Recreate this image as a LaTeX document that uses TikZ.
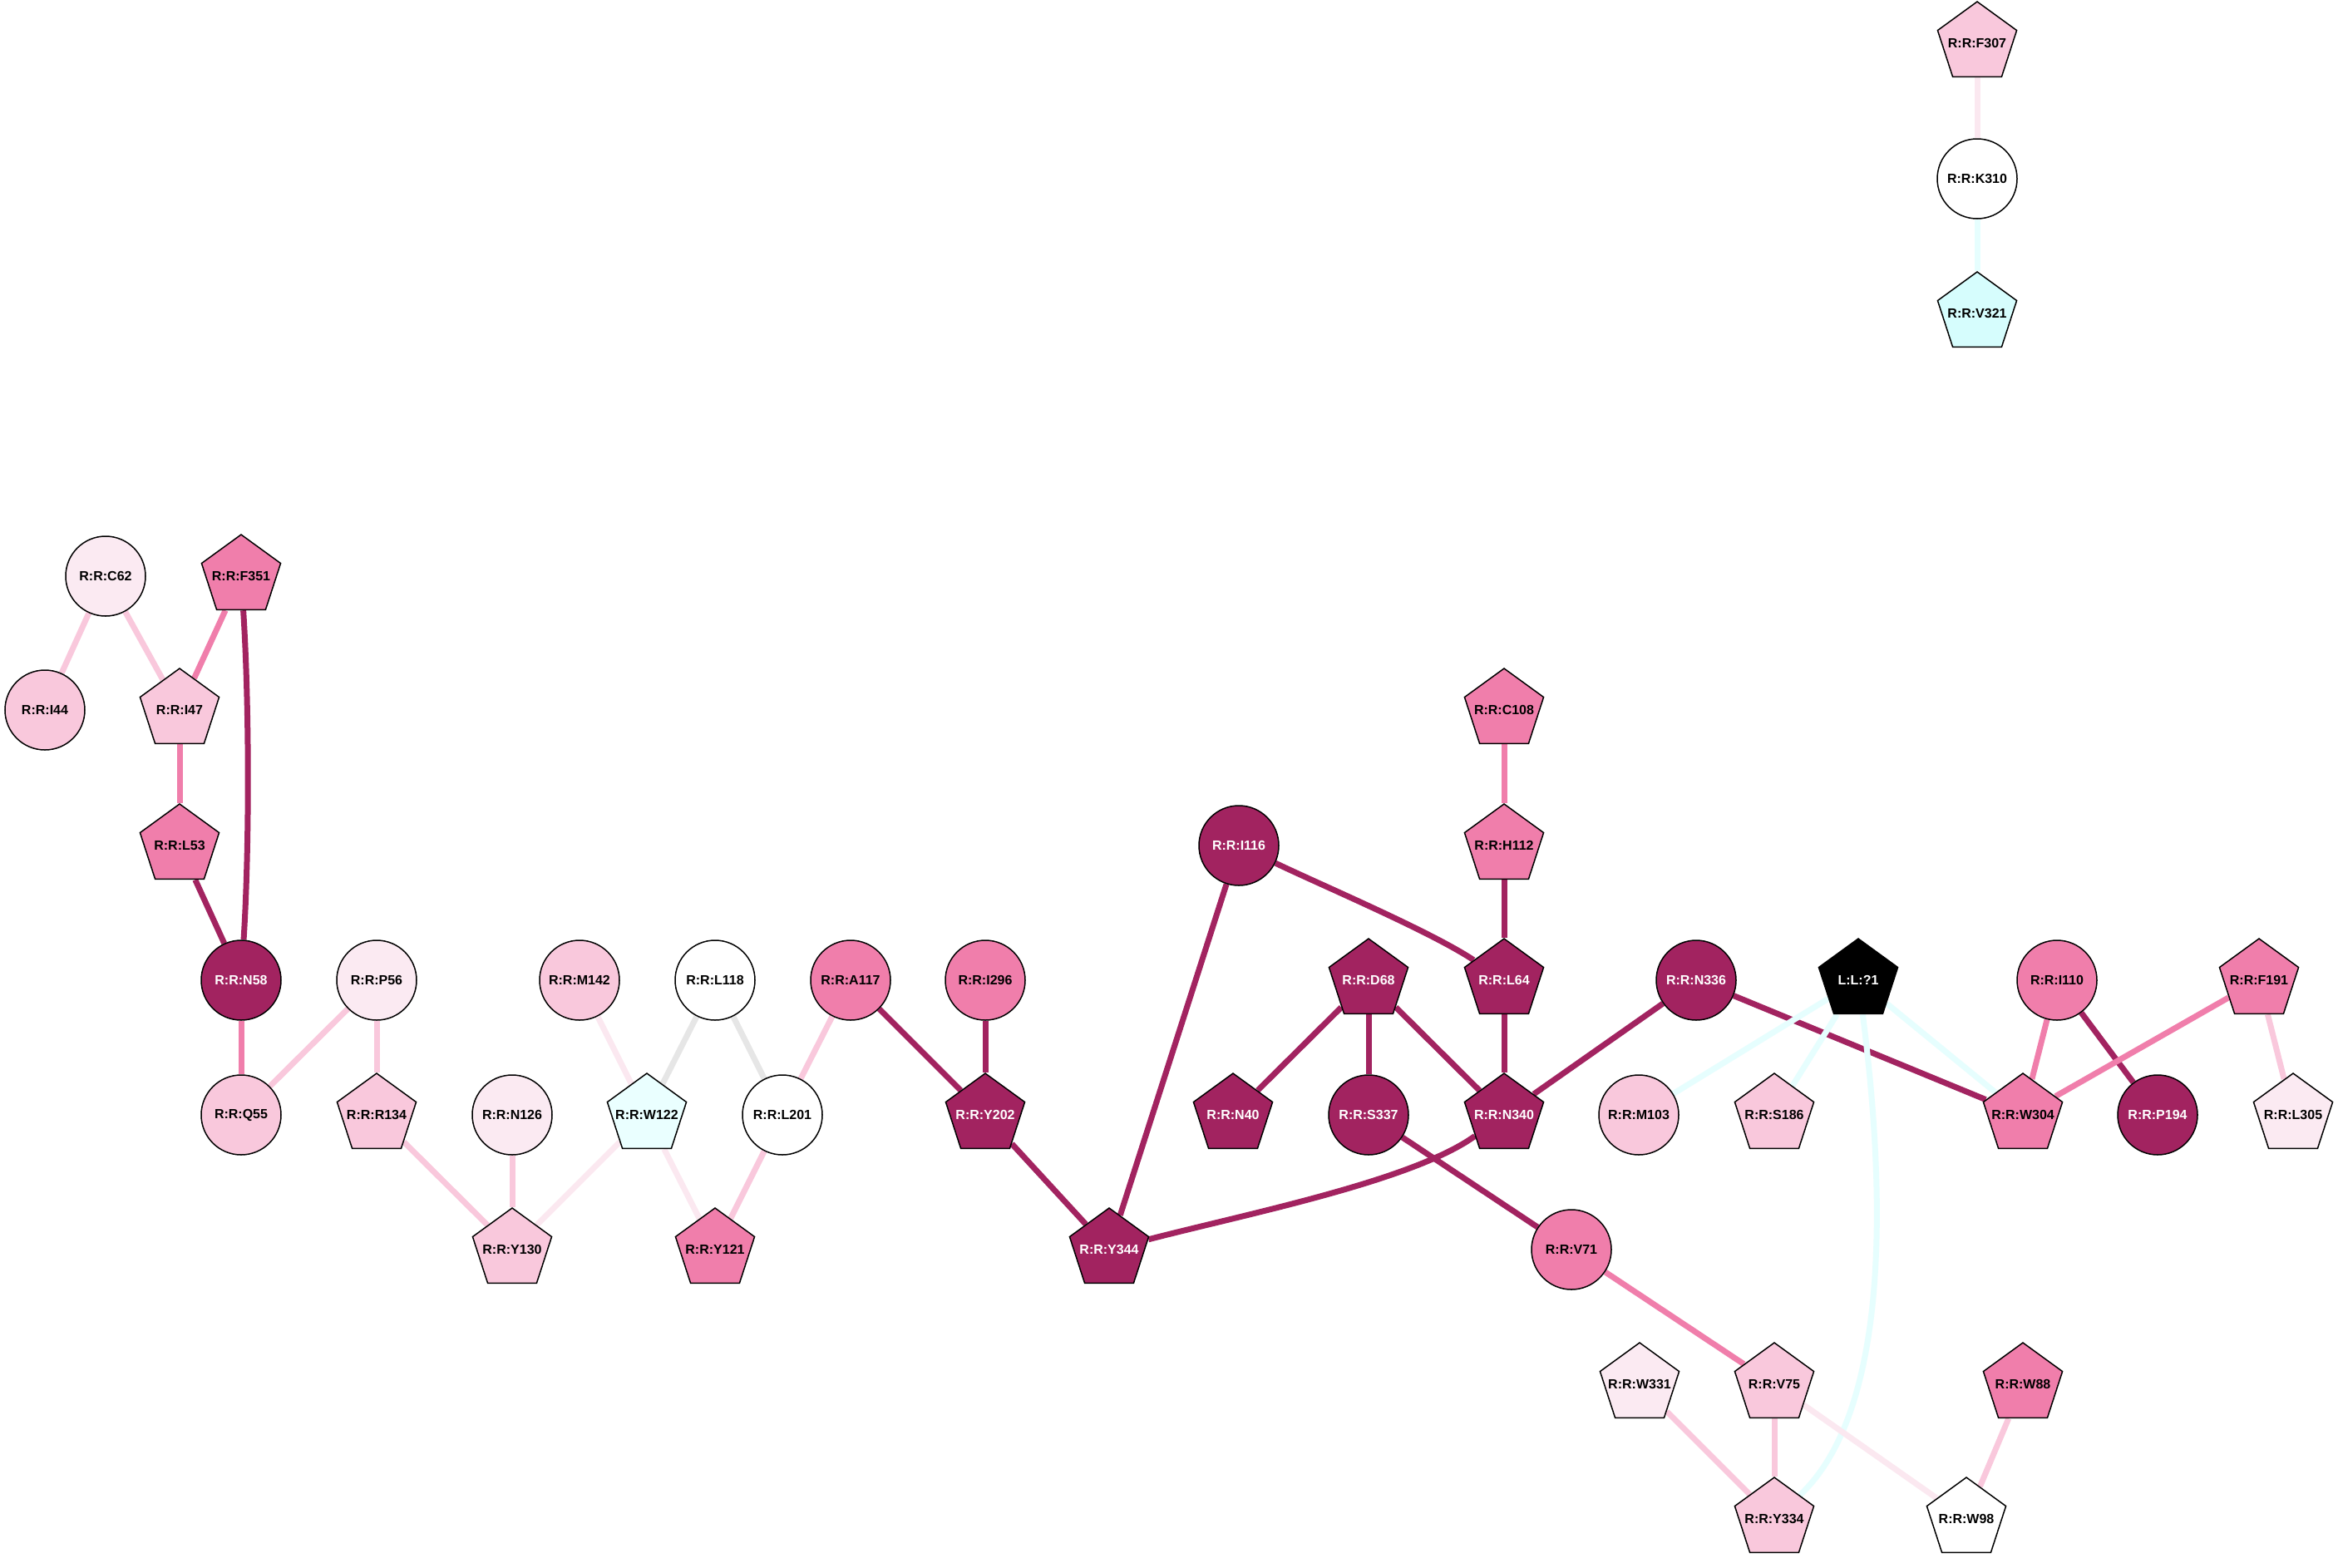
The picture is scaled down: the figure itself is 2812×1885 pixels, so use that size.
\documentclass[tikz,border=0pt]{standalone}
\usepackage{fontspec}
\setmainfont{Liberation Sans}
\usetikzlibrary{shapes.geometric}
\pgfdeclarelayer{background}
\pgfsetlayers{background,main}
\definecolor{cdark}{RGB}{162,35,96}
\definecolor{cmed}{RGB}{240,126,171}
\definecolor{clight}{RGB}{249,200,220}
\definecolor{cvlight}{RGB}{251,234,242}
\definecolor{ccyanA}{RGB}{214,253,253}
\definecolor{ccyanB}{RGB}{234,255,255}
\definecolor{ecyan}{RGB}{230,254,254}
\definecolor{egray}{RGB}{230,230,230}
\definecolor{evlight}{RGB}{251,232,240}
\newcommand{\rlab}[1]{\makebox[0pt]{#1}}
\tikzset{
  res/.style={draw=black, line width=1.5pt, inner sep=0pt, text=black,
    font=\fontsize{16}{18}\selectfont\bfseries},
  circ/.style={res, circle, minimum size=96pt},
  pent/.style={res, regular polygon, regular polygon sides=5, minimum size=100pt},
  fdark/.style={fill=cdark, text=white},
  fmed/.style={fill=cmed},
  flight/.style={fill=clight},
  fvlight/.style={fill=cvlight},
  fwhite/.style={fill=white},
  fcyanA/.style={fill=ccyanA},
  fcyanB/.style={fill=ccyanB},
  fblack/.style={fill=black, text=white},
  ed/.style={line width=7pt},
  edark/.style={ed, draw=cdark},
  emed/.style={ed, draw=cmed},
  elight/.style={ed, draw=clight},
  evl/.style={ed, draw=evlight},
  egr/.style={ed, draw=egray},
  ecy/.style={ed, draw=ecyan},
}
\begin{document}
\begin{tikzpicture}[x=1pt, y=-1pt]
\useasboundingbox (0,0) rectangle (2812,1885);
% top right chain
\node[pent, flight] (F307) at (2378,52) {\rlab{R:R:F307}};
\node[circ, fwhite] (K310) at (2378,215) {\rlab{R:R:K310}};
\node[pent, fcyanA] (V321) at (2378,377) {\rlab{R:R:V321}};
% left cluster
\node[circ, fvlight] (C62) at (127,693) {\rlab{R:R:C62}};
\node[pent, fmed] (F351) at (290,693) {\rlab{R:R:F351}};
\node[circ, flight] (I44) at (54,854) {\rlab{R:R:I44}};
\node[pent, flight] (I47) at (216,854) {\rlab{R:R:I47}};
\node[pent, fmed] (C108) at (1809,854) {\rlab{R:R:C108}};
\node[pent, fmed] (L53) at (216,1017) {\rlab{R:R:L53}};
\node[circ, fdark] (I116) at (1490,1017) {\rlab{R:R:I116}};
\node[pent, fmed] (H112) at (1809,1017) {\rlab{R:R:H112}};
% row G
\node[circ, fdark] (N58) at (290,1179) {\rlab{R:R:N58}};
\node[circ, fvlight] (P56) at (453,1179) {\rlab{R:R:P56}};
\node[circ, flight] (M142) at (697,1179) {\rlab{R:R:M142}};
\node[circ, fwhite] (L118) at (860,1179) {\rlab{R:R:L118}};
\node[circ, fmed] (A117) at (1023,1179) {\rlab{R:R:A117}};
\node[circ, fmed] (I296) at (1185,1179) {\rlab{R:R:I296}};
\node[pent, fdark] (D68) at (1646,1179) {\rlab{R:R:D68}};
\node[pent, fdark] (L64) at (1809,1179) {\rlab{R:R:L64}};
\node[circ, fdark] (N336) at (2040,1179) {\rlab{R:R:N336}};
\node[pent, fblack] (L1) at (2235,1179) {\rlab{L:L:?1}};
\node[circ, fmed] (I110) at (2474,1179) {\rlab{R:R:I110}};
\node[pent, fmed] (F191) at (2717,1179) {\rlab{R:R:F191}};
% row H
\node[circ, flight] (Q55) at (290,1341) {\rlab{R:R:Q55}};
\node[pent, flight] (R134) at (453,1341) {\rlab{R:R:R134}};
\node[circ, fvlight] (N126) at (616,1341) {\rlab{R:R:N126}};
\node[pent, fcyanB] (W122) at (778,1341) {\rlab{R:R:W122}};
\node[circ, fwhite] (L201) at (941,1341) {\rlab{R:R:L201}};
\node[pent, fdark] (Y202) at (1185,1341) {\rlab{R:R:Y202}};
\node[pent, fdark] (N40) at (1483,1341) {\rlab{R:R:N40}};
\node[circ, fdark] (S337) at (1646,1341) {\rlab{R:R:S337}};
\node[pent, fdark] (N340) at (1809,1341) {\rlab{R:R:N340}};
\node[circ, flight] (M103) at (1971,1341) {\rlab{R:R:M103}};
\node[pent, flight] (S186) at (2134,1341) {\rlab{R:R:S186}};
\node[pent, fmed] (W304) at (2433,1341) {\rlab{R:R:W304}};
\node[circ, fdark] (P194) at (2595,1341) {\rlab{R:R:P194}};
\node[pent, fvlight] (L305) at (2758,1341) {\rlab{R:R:L305}};
% row I
\node[pent, flight] (Y130) at (616,1503) {\rlab{R:R:Y130}};
\node[pent, fmed] (Y121) at (860,1503) {\rlab{R:R:Y121}};
\node[pent, fdark] (Y344) at (1334,1503) {\rlab{R:R:Y344}};
\node[circ, fmed] (V71) at (1890,1503) {\rlab{R:R:V71}};
% row J
\node[pent, fvlight] (W331) at (1972,1665) {\rlab{R:R:W331}};
\node[pent, flight] (V75) at (2134,1665) {\rlab{R:R:V75}};
\node[pent, fmed] (W88) at (2433,1665) {\rlab{R:R:W88}};
% row K
\node[pent, flight] (Y334) at (2134,1827) {\rlab{R:R:Y334}};
\node[pent, fwhite] (W98) at (2365,1827) {\rlab{R:R:W98}};

\begin{pgfonlayer}{background}
\fill[white] (0,0) rectangle (2812,1885);
\draw[evl] (F307) -- (K310);
\draw[ecy] (K310) -- (V321);
\draw[elight] (C62) -- (I44);
\draw[elight] (C62) -- (I47);
\draw[emed] (F351) -- (I47);
\draw[edark] (F351) .. controls (300,850) and (300,1020) .. (N58);
\draw[emed] (I47) -- (L53);
\draw[edark] (L53) -- (N58);
\draw[emed] (N58) -- (Q55);
\draw[elight] (P56) -- (Q55);
\draw[elight] (P56) -- (R134);
\draw[elight] (R134) -- (Y130);
\draw[elight] (N126) -- (Y130);
\draw[evl] (W122) -- (Y130);
\draw[evl] (M142) -- (W122);
\draw[egr] (L118) -- (W122);
\draw[egr] (L118) -- (L201);
\draw[evl] (W122) -- (Y121);
\draw[elight] (A117) -- (L201);
\draw[elight] (L201) -- (Y121);
\draw[edark] (A117) -- (Y202);
\draw[edark] (I296) -- (Y202);
\draw[edark] (Y202) -- (Y344);
\draw[edark] (I116) -- (Y344);
\draw[edark] (I116) .. controls (1590,1065) and (1720,1120) .. (L64);
\draw[emed] (C108) -- (H112);
\draw[edark] (H112) -- (L64);
\draw[edark] (L64) -- (N340);
\draw[edark] (D68) -- (N40);
\draw[edark] (D68) -- (S337);
\draw[edark] (D68) -- (N340);
\draw[edark] (N336) -- (N340);
\draw[edark] (N336) -- (W304);
\draw[edark] (N340) .. controls (1700,1420) and (1500,1460) .. (Y344);
\draw[edark] (S337) -- (V71);
\draw[emed] (V71) -- (V75);
\draw[ecy] (L1) -- (M103);
\draw[ecy] (L1) -- (S186);
\draw[ecy] (L1) -- (W304);
\draw[ecy] (L1) .. controls (2270,1450) and (2270,1700) .. (Y334);
\draw[emed] (I110) -- (W304);
\draw[edark] (I110) -- (P194);
\draw[emed] (F191) -- (W304);
\draw[elight] (F191) -- (L305);
\draw[elight] (V75) -- (Y334);
\draw[evl] (V75) -- (W98);
\draw[elight] (W331) -- (Y334);
\draw[elight] (W88) -- (W98);
\end{pgfonlayer}
\end{tikzpicture}
\end{document}
